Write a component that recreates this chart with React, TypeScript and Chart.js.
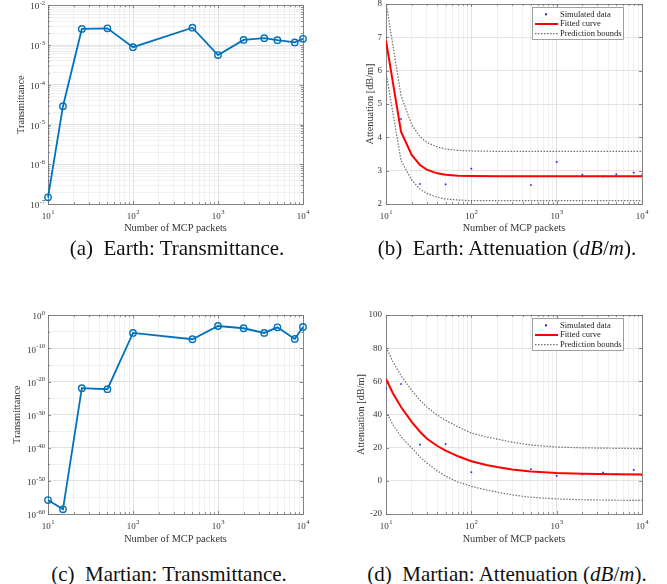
import React, { useEffect, useRef } from 'react';
import { Chart, registerables } from 'chart.js';

Chart.register(...registerables);

const FONT = "'Liberation Serif', 'Times New Roman', Times, serif";
const TEXT = '#333333';
const BLUE = '#0072BD';

// ---------------- data ----------------
const packets = [10, 15, 25, 50, 100, 500, 1000, 2000, 3500, 5000, 8000, 10000];
const earthTransmittance = [1.47e-7, 2.9e-5, 2.55e-3, 2.65e-3, 8.9e-4, 2.75e-3, 5.6e-4, 1.35e-3, 1.5e-3, 1.33e-3, 1.17e-3, 1.44e-3];
const martianTransmittance = [1.6e-56, 2.5e-59, 1.0e-22, 5.0e-23, 5.0e-6, 6.3e-8, 6.3e-4, 1.3e-4, 5.0e-6, 2.5e-4, 7.9e-8, 3.2e-4];

const earthSimPackets = [15, 25, 50, 100, 500, 1000, 2000, 3500, 5000, 8000, 10000];
const earthSimAttenuation = [4.55, 2.6, 2.59, 3.06, 2.57, 3.26, 2.88, 2.83, 2.89, 2.94, 2.86];
const earthFitPackets = [10, 15, 20, 25, 30, 40, 50, 70, 100, 200, 500, 1000, 10000];
const earthFit = [6.9, 4.17, 3.47, 3.17, 3.03, 2.92, 2.88, 2.85, 2.84, 2.83, 2.83, 2.83, 2.83];
const earthUpper = [8.05, 5.25, 4.38, 4.02, 3.85, 3.71, 3.65, 3.61, 3.59, 3.58, 3.58, 3.58, 3.58];
const earthLower = [5.95, 3.3, 2.72, 2.45, 2.32, 2.2, 2.15, 2.12, 2.1, 2.1, 2.1, 2.1, 2.1];

const martianSimPackets = [10, 15, 25, 50, 100, 500, 1000, 2000, 3500, 5000, 8000, 10000];
const martianSimAttenuation = [55.8, 58.4, 21.8, 22.2, 5.2, 7.0, 3.0, 3.9, 5.0, 4.0, 6.6, 3.4];
const martianFitPackets = [10, 12, 15, 20, 25, 30, 40, 50, 70, 100, 150, 200, 300, 500, 1000, 2000, 5000, 10000];
const martianFit = [61.5, 53, 44.5, 35.6, 29.6, 25.5, 21, 18.2, 14.8, 11.8, 9.6, 8.3, 6.9, 5.6, 4.7, 4.2, 3.9, 3.8];
const martianUpper = [80.6, 72, 63.4, 54.6, 48.6, 44.6, 39.6, 36.5, 32.5, 28.8, 26.5, 25.2, 23.3, 21.6, 20.4, 19.9, 19.6, 19.4];
const martianLower = [41.8, 34, 26.6, 19.8, 14.4, 10.8, 6.0, 2.8, -0.8, -3.3, -5.5, -6.8, -8.5, -9.9, -10.9, -11.4, -11.7, -11.8];

// ---------------- ticks / labels ----------------
const xDecadeTicks = [10, 100, 1000, 10000];
const earthTransTicks = [1e-7, 1e-6, 1e-5, 1e-4, 1e-3, 1e-2];
const martianTransTicks = [1e-60, 1e-50, 1e-40, 1e-30, 1e-20, 1e-10, 1];
const earthAttTicks = [2, 3, 4, 5, 6, 7, 8];
const martianAttTicks = [-20, 0, 20, 40, 60, 80, 100];
const legendLabels = ['Simulated data', 'Fitted curve', 'Prediction bounds'];
const xTitle = 'Number of MCP packets';

const TITLE_SIZE = 10.3;
const TICK_SIZE = 9;
const SUP_SIZE = 6.6;

const expOf = (v: number) => String(Math.round(Math.log10(v)));
const sameLog = (a: number, b: number) => Math.abs(Math.log10(a) - Math.log10(b)) < 1e-6;
const isIn = (list: number[], v: number) => list.some((d) => sameLog(d, v));

// grid positions between decades (minor lines) for a log axis
const logMinors = (decades: number[]) => {
  const out: number[] = [];
  for (let i = 0; i < decades.length - 1; i++) {
    for (let m = 2; m <= 9; m++) out.push(decades[i] * m);
  }
  return out;
};
const halfDecades = (labels: number[]) => {
  const out: number[] = [];
  for (let i = 0; i < labels.length - 1; i++) out.push(labels[i] * 1e5);
  return out;
};

// ---------------- plugins ----------------
function makeFramePlugin(xMajor: number[], yMajor: number[] | null) {
  return {
    id: 'frame',
    beforeDatasetsDraw(chart: any) {
      const { ctx, chartArea: a, scales } = chart;
      ctx.save();
      ctx.strokeStyle = '#6f6f6f';
      ctx.lineWidth = 0.8;
      ctx.beginPath();
      const xs = scales.x;
      xs.ticks.forEach((t: any) => {
        const p = Math.round(xs.getPixelForValue(t.value)) + 0.5;
        const len = isIn(xMajor, t.value) ? 3 : 1.8;
        ctx.moveTo(p, a.bottom); ctx.lineTo(p, a.bottom - len);
        ctx.moveTo(p, a.top); ctx.lineTo(p, a.top + len);
      });
      const ys = scales.y;
      ys.ticks.forEach((t: any) => {
        const p = Math.round(ys.getPixelForValue(t.value)) + 0.5;
        const len = !yMajor || isIn(yMajor, t.value) ? 3 : 1.8;
        ctx.moveTo(a.left, p); ctx.lineTo(a.left + len, p);
        ctx.moveTo(a.right, p); ctx.lineTo(a.right - len, p);
      });
      ctx.stroke();
      ctx.strokeRect(Math.round(a.left) + 0.5, Math.round(a.top) + 0.5, Math.round(a.right - a.left), Math.round(a.bottom - a.top));
      ctx.restore();
    },
  };
}

// power-of-ten tick labels with a real superscript exponent
function makePowLabelPlugin(xLabels: number[], yLabels: number[] | null) {
  return {
    id: 'powLabels',
    afterDraw(chart: any) {
      const { ctx, chartArea: a, scales } = chart;
      ctx.save();
      ctx.fillStyle = TEXT;
      ctx.textBaseline = 'alphabetic';
      ctx.textAlign = 'left';
      const baseFont = `${TICK_SIZE}px ${FONT}`;
      const supFont = `${SUP_SIZE}px ${FONT}`;
      const measure = (e: string) => {
        ctx.font = baseFont; const w1 = ctx.measureText('10').width;
        ctx.font = supFont; const w2 = ctx.measureText(e).width;
        return [w1, w2];
      };
      const draw = (e: string, x: number, baseY: number, w1: number) => {
        ctx.font = baseFont; ctx.fillText('10', x, baseY);
        ctx.font = supFont; ctx.fillText(e, x + w1 + 0.3, baseY - 4.2);
      };
      xLabels.forEach((v) => {
        const p = scales.x.getPixelForValue(v);
        const e = expOf(v);
        const [w1, w2] = measure(e);
        draw(e, p - (w1 + w2) / 2, a.bottom + 14.5, w1);
      });
      if (yLabels) {
        yLabels.forEach((v) => {
          const p = scales.y.getPixelForValue(v);
          const e = expOf(v);
          const [w1, w2] = measure(e);
          draw(e, a.left - 3 - w1 - w2 - 0.3, p + 4, w1);
        });
      }
      ctx.restore();
    },
  };
}

const fitLegendPlugin = {
  id: 'fitLegend',
  afterDraw(chart: any) {
    const { ctx, chartArea: a } = chart;
    const w = 91, h = 32;
    const x0 = Math.round(a.right - 19 - w);
    const y0 = Math.round(a.top + 3);
    ctx.save();
    ctx.fillStyle = '#ffffff';
    ctx.fillRect(x0, y0, w, h);
    ctx.strokeStyle = '#8a8a8a';
    ctx.lineWidth = 0.8;
    ctx.strokeRect(x0 + 0.5, y0 + 0.5, w, h);
    ctx.font = `8.5px ${FONT}`;
    ctx.textBaseline = 'middle';
    ctx.textAlign = 'left';
    legendLabels.forEach((label, i) => {
      const cy = y0 + 7.3 + i * 9.7;
      if (i === 0) {
        ctx.fillStyle = '#2020ff';
        ctx.fillRect(x0 + 13, cy - 1, 2, 2);
      } else if (i === 1) {
        ctx.strokeStyle = '#ff0000';
        ctx.lineWidth = 2;
        ctx.setLineDash([]);
        ctx.beginPath(); ctx.moveTo(x0 + 3, cy); ctx.lineTo(x0 + 26, cy); ctx.stroke();
      } else {
        ctx.strokeStyle = '#6e6e6e';
        ctx.lineWidth = 1.2;
        ctx.setLineDash([1.5, 1.5]);
        ctx.beginPath(); ctx.moveTo(x0 + 3, cy); ctx.lineTo(x0 + 26, cy); ctx.stroke();
        ctx.setLineDash([]);
      }
      ctx.fillStyle = '#222';
      ctx.fillText(label, x0 + 28, cy);
    });
    ctx.restore();
  },
};

// ---------------- config builder ----------------
type Layout = { width: number; height: number; plotLeft: number; plotRight: number; plotTop: number; plotBottom: number; yTitleX: number; xTitleY: number };

function buildConfig(layout: Layout, datasets: any[], yScale: any, yLogLabels: number[] | null, withLegend: boolean) {
  const xGrid = [...xDecadeTicks, ...logMinors(xDecadeTicks)].sort((p, q) => p - q);
  const titleLH = TITLE_SIZE * 1.2;
  const plugins: any[] = [makeFramePlugin(xDecadeTicks, yLogLabels), makePowLabelPlugin(xDecadeTicks, yLogLabels)];
  if (withLegend) plugins.push(fitLegendPlugin);
  return {
    type: 'line',
    data: { datasets },
    options: {
      responsive: false,
      animation: false,
      events: [],
      layout: { padding: { left: 0, top: layout.plotTop, right: layout.width - layout.plotRight, bottom: 0 } },
      plugins: { legend: { display: false }, tooltip: { enabled: false } },
      scales: {
        x: {
          type: 'logarithmic',
          position: 'bottom',
          min: 10,
          max: 10000,
          afterBuildTicks: (s: any) => { s.ticks = xGrid.map((v) => ({ value: v })); },
          afterFit: (s: any) => {
            s.height = layout.height - layout.plotBottom;
            s.paddingLeft = 0; s.paddingRight = 0;
          },
          ticks: {
            autoSkip: false, maxRotation: 0, minRotation: 0, padding: 5, color: TEXT,
            font: { family: FONT, size: TICK_SIZE },
            callback: () => '',
          },
          grid: {
            drawTicks: false, lineWidth: 0.8,
            color: (c: any) => (c.tick && isIn(xDecadeTicks, c.tick.value) ? '#d9d9d9' : '#ececec'),
          },
          border: { display: false },
          title: {
            display: true, text: xTitle, color: TEXT,
            font: { family: FONT, size: TITLE_SIZE },
            padding: { top: 0, bottom: layout.height - layout.xTitleY - titleLH / 2 },
          },
        },
        y: {
          ...yScale,
          position: 'left',
          afterFit: (s: any) => {
            s.width = layout.plotLeft;
            s.paddingTop = 0; s.paddingBottom = 0;
          },
          border: { display: false },
          title: {
            ...yScale.title,
            display: true, color: TEXT,
            font: { family: FONT, size: TITLE_SIZE },
            padding: { top: layout.yTitleX - titleLH / 2, bottom: 0 },
          },
        },
      },
    },
    plugins,
  };
}

function logYScale(labels: number[], grid: number[]) {
  const all = [...labels, ...grid].sort((p, q) => p - q);
  return {
    type: 'logarithmic',
    min: labels[0],
    max: labels[labels.length - 1],
    afterBuildTicks: (s: any) => { s.ticks = all.map((v) => ({ value: v })); },
    ticks: {
      autoSkip: false, padding: 3, color: TEXT,
      font: { family: FONT, size: TICK_SIZE },
      callback: () => '',
    },
    grid: {
      drawTicks: false, lineWidth: 0.8,
      color: (c: any) => (c.tick && isIn(labels, c.tick.value) ? '#d9d9d9' : '#ececec'),
    },
    title: { text: 'Transmittance' },
  };
}

function linYScale(labels: number[]) {
  return {
    type: 'linear',
    min: labels[0],
    max: labels[labels.length - 1],
    afterBuildTicks: (s: any) => { s.ticks = labels.map((v) => ({ value: v })); },
    ticks: {
      autoSkip: false, padding: 4, color: TEXT,
      font: { family: FONT, size: TICK_SIZE },
      callback: (v: number) => String(v),
    },
    grid: { drawTicks: false, lineWidth: 0.8, color: '#dddddd' },
    title: { text: 'Attenuation [dB/m]' },
  };
}

const pts = (xs: number[], ys: number[]) => xs.map((x, i) => ({ x, y: ys[i] }));

const transDataset = (ys: number[]) => ({
  label: 'Transmittance',
  data: pts(packets, ys),
  borderColor: BLUE,
  borderWidth: 1.8,
  pointRadius: 3.2,
  pointBorderWidth: 1.4,
  pointBorderColor: BLUE,
  pointBackgroundColor: 'rgba(255,255,255,0)',
  tension: 0,
  clip: false,
});

const fitDatasets = (simX: number[], simY: number[], fitX: number[], fit: number[], up: number[], lo: number[]) => [
  { label: legendLabels[1], data: pts(fitX, fit), borderColor: '#ff0000', borderWidth: 2, pointRadius: 0, tension: 0 },
  { label: legendLabels[2], data: pts(fitX, up), borderColor: '#6e6e6e', borderWidth: 1.2, borderDash: [1.5, 1.5], pointRadius: 0, tension: 0 },
  { label: legendLabels[2], data: pts(fitX, lo), borderColor: '#6e6e6e', borderWidth: 1.2, borderDash: [1.5, 1.5], pointRadius: 0, tension: 0 },
  { label: legendLabels[0], data: pts(simX, simY), showLine: false, pointRadius: 1.2, pointBorderWidth: 0, pointBackgroundColor: '#2020ff', pointStyle: 'rect' },
];

function ChartBox({ left, top, layout, config }: { left: number; top: number; layout: Layout; config: any }) {
  const ref = useRef<HTMLCanvasElement>(null);
  useEffect(() => {
    const chart = new Chart(ref.current as HTMLCanvasElement, config);
    return () => chart.destroy();
  }, []);
  return (
    <canvas
      ref={ref}
      width={layout.width}
      height={layout.height}
      style={{ position: 'absolute', left, top, width: layout.width, height: layout.height }}
    />
  );
}

const capStyle = (cx: number, cy: number): React.CSSProperties => ({
  position: 'absolute', left: cx, top: cy, transform: 'translate(-50%, -50%)',
  fontFamily: FONT, fontSize: 21, whiteSpace: 'nowrap', color: '#111', lineHeight: 1,
});

const layoutA: Layout = { width: 333, height: 240, plotLeft: 48, plotRight: 303, plotTop: 4, plotBottom: 204, yTitleX: 21, xTitleY: 228 };
const layoutB: Layout = { width: 334, height: 240, plotLeft: 53, plotRight: 309, plotTop: 4, plotBottom: 204, yTitleX: 37, xTitleY: 228 };
const layoutC: Layout = { width: 333, height: 240, plotLeft: 48, plotRight: 303, plotTop: 5, plotBottom: 204, yTitleX: 17, xTitleY: 229 };
const layoutD: Layout = { width: 334, height: 240, plotLeft: 53, plotRight: 309, plotTop: 5, plotBottom: 204, yTitleX: 28, xTitleY: 229 };

export default function App() {
  const cfgA = buildConfig(layoutA, [transDataset(earthTransmittance)], logYScale(earthTransTicks, logMinors(earthTransTicks)), earthTransTicks, false);
  const cfgB = buildConfig(layoutB, fitDatasets(earthSimPackets, earthSimAttenuation, earthFitPackets, earthFit, earthUpper, earthLower), linYScale(earthAttTicks), null, true);
  const cfgC = buildConfig(layoutC, [transDataset(martianTransmittance)], logYScale(martianTransTicks, halfDecades(martianTransTicks)), martianTransTicks, false);
  const cfgD = buildConfig(layoutD, fitDatasets(martianSimPackets, martianSimAttenuation, martianFitPackets, martianFit, martianUpper, martianLower), linYScale(martianAttTicks), null, true);
  return (
    <div style={{ position: 'absolute', left: 0, top: 0, width: 667, height: 584, background: '#ffffff', overflow: 'hidden' }}>
      <ChartBox left={0} top={0} layout={layoutA} config={cfgA} />
      <ChartBox left={333} top={0} layout={layoutB} config={cfgB} />
      <ChartBox left={0} top={310} layout={layoutC} config={cfgC} />
      <ChartBox left={333} top={310} layout={layoutD} config={cfgD} />
      <div style={capStyle(177, 248)}>(a)&nbsp; Earth: Transmittance.</div>
      <div style={capStyle(507, 248)}>(b)&nbsp; Earth: Attenuation (<i>dB</i>/<i>m</i>).</div>
      <div style={capStyle(169, 574)}>(c)&nbsp; Martian: Transmittance.</div>
      <div style={capStyle(507, 574)}>(d)&nbsp; Martian: Attenuation (<i>dB</i>/<i>m</i>).</div>
    </div>
  );
}
